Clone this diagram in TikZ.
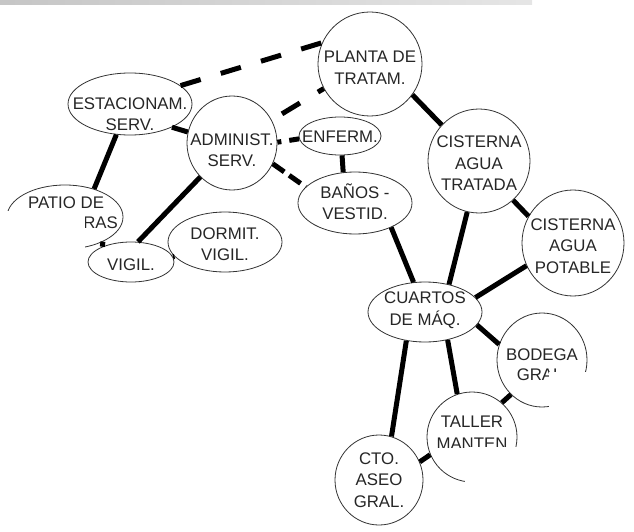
\documentclass[tikz,border=0pt]{standalone}
\usepackage{fontspec}
\setmainfont{Liberation Sans}
\usetikzlibrary{shapes.geometric}

\tikzset{
  room/.style={draw=black!80, line width=0.8pt, ellipse, inner sep=0pt, fill=white},
  txt/.style={align=center, inner sep=0pt, text=black!85, font=\fontsize{16.8}{21.5}\selectfont},
  link/.style={line width=5pt},
  dlink/.style={line width=5pt, dash pattern=on 21pt off 21pt},
}

\begin{document}
\begin{tikzpicture}[x=1pt, y=-1pt]
    \useasboundingbox (0,0) rectangle (634,532);
    % franja gris arriba
    \shade[left color=gray!45, right color=gray!20] (0,0) rectangle (532,5);
    % Locales
    \node[room, minimum width=104pt, minimum height=104pt] (planta) at (370,64) {};
    \node[room, minimum width=124pt, minimum height=62pt] (esta) at (130,104) {};
    \node[room, minimum width=90pt, minimum height=94pt] (admin) at (232,143) {};
    \node[room, minimum width=82pt, minimum height=38pt] (enf) at (340,136) {};
    \node[room, minimum width=114pt, minimum height=62pt] (banos) at (355,203) {};
    \node[room, minimum width=102pt, minimum height=104pt] (cist-t) at (479,161) {};
    \node[room, minimum width=102pt, minimum height=106pt] (cist-p) at (573,243) {};
    \node[room, minimum width=116pt, minimum height=64pt] (patio) at (65,217) {};
    \node[room, minimum width=86pt, minimum height=40pt] (vigil) at (131,262) {};
    \node[room, minimum width=114pt, minimum height=60pt] (dorm) at (225,242) {};
    \node[room, minimum width=114pt, minimum height=60pt] (cuartos) at (425,312) {};
    \node[room, minimum width=90pt, minimum height=94pt] (bodega) at (542,360) {};
    \node[room, minimum width=90pt, minimum height=90pt] (taller) at (472,437) {};
    \node[room, minimum width=88pt, minimum height=90pt] (aseo) at (379,480) {};
    % Nombres
    \node[txt, yshift=-3.5pt] (planta-t) at (planta) {PLANTA DE\\TRATAM.};
    \node[txt, yshift=-10pt] (esta-t) at (esta) {ESTACIONAM.\\SERV.};
    \node[txt, yshift=-7pt] (admin-t) at (admin) {ADMINIST.\\SERV.};
    \node[txt, yshift=-1pt] (enf-t) at (enf) {ENFERM.};
    \node[txt, yshift=1.5pt] (banos-t) at (banos) {BAÑOS -\\VESTID.};
    \node[txt, yshift=-2.5pt] (cist-t-t) at (cist-t) {CISTERNA\\AGUA\\TRATADA};
    \node[txt, yshift=-3pt] (cist-p-t) at (cist-p) {CISTERNA\\AGUA\\POTABLE};
    \node[txt] (patio-t1) at (66,203) {PATIO DE};
    \node[txt, anchor=east] (patio-t2) at (118,223) {RAS};
    \node[txt, yshift=-3pt] (vigil-t) at (vigil) {VIGIL.};
    \node[txt, yshift=-2pt] (dorm-t) at (dorm) {DORMIT.\\VIGIL.};
    \node[txt, yshift=2pt] (cuartos-t) at (cuartos) {CUARTOS\\DE MÁQ.};
    \node[txt, yshift=-5pt, font=\fontsize{16.8}{20}\selectfont] (bodega-t) at (bodega) {BODEGA\\GRAL.};
    \begin{scope}
        \clip (420,380) rectangle (530,447);
        \node[txt, yshift=4.5pt] (taller-t) at (taller) {TALLER\\MANTEN};
    \end{scope}
    \node[txt] (aseo-t) at (aseo) {CTO.\\ASEO\\GRAL.};
    % Cortes
    \fill[white] (0,211) rectangle (85,300);
    \fill[white] (549,372) rectangle (634,430);
    \fill[white] (465,447) rectangle (634,532);
    % Conexiones punteadas
    \draw[dlink] (esta.20) -- (planta.156);
    \draw[dlink, dash phase=30pt] (admin.30) -- (planta.208);
    \draw[dlink, dash pattern=on 10pt off 8pt, dash phase=6pt] (admin.1) -- (enf.184);
    \draw[dlink, dash pattern=on 14pt off 6pt] (admin.333) -- (banos.162);
    % Conexiones llenas
    \draw[link] (esta.331) -- (admin.166);
    \draw[link] (esta.246) -- (patio.44);
    \draw[link] (admin.227) -- (vigil.71);
    \draw[link] (patio.327) -- (vigil.152);
    \draw[link] (vigil.7) -- (dorm.196);
    \draw[link] (enf.276) -- (banos.111);
    \draw[link] (planta.324) -- (cist-t.136);
    \draw[link] (cist-t.311) -- (cist-p.149);
    \draw[link] (cist-t.257) -- (cuartos.49);
    \draw[link] (banos.326) -- (cuartos.111);
    \draw[link] (cist-p.206) -- (cuartos.16);
    \draw[link] (cuartos.346) -- (bodega.160);
    \draw[link] (cuartos.309) -- (taller.109);
    \draw[link] (cuartos.237) -- (aseo.74);
    \draw[link] (bodega.228) -- (taller.49);
    \draw[link] (taller.203) -- (aseo.24);
\end{tikzpicture}
\end{document}
